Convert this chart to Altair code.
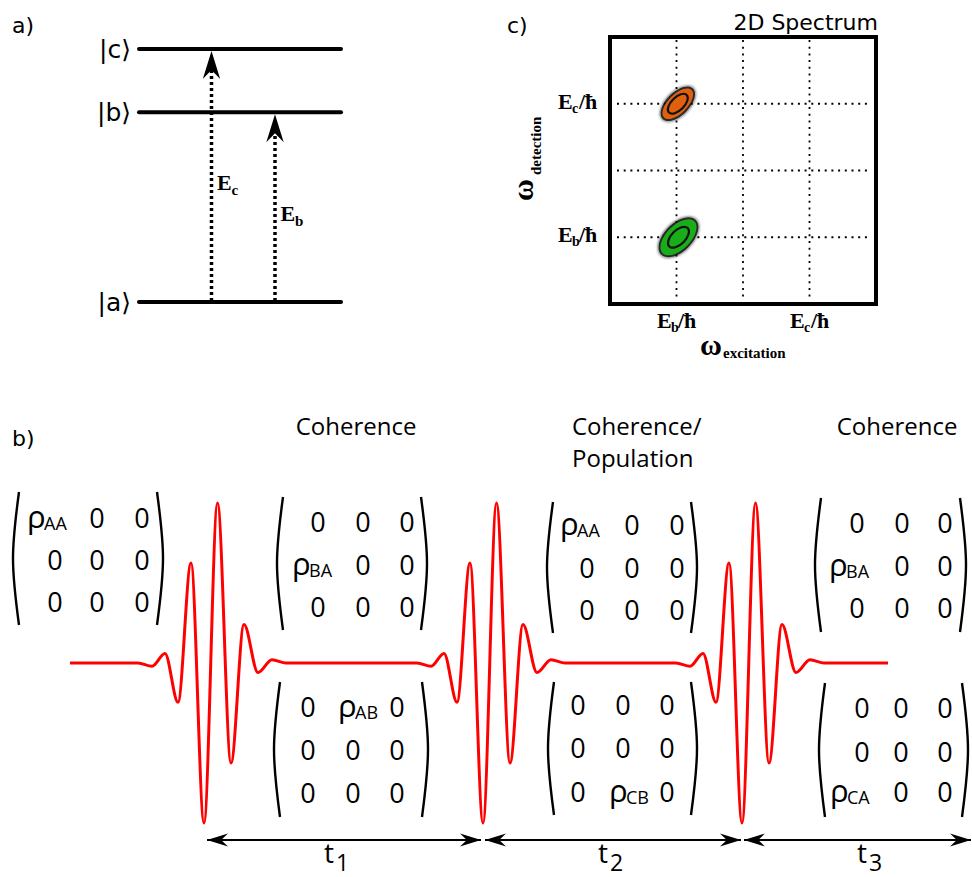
import altair as alt
import pandas as pd

# ---------------- data ----------------
# a) three-level system
level_names = ["a", "b", "c"]
level_energy = [0.0, 0.75, 1.0]            # relative energies of |a>, |b>, |c>
transition_upper = ["c", "b"]              # both excitations start from |a>

# c) 2D spectrum (grid units; the frame spans 0..4 on both axes)
spec_grid = [1, 2, 3]
spec_tick_pos = [1, 3]
spec_tick_sub = ["b", "c"]
peak_exc = [1.02, 1.03]
peak_det = [3.0, 1.0]
peak_color = ["#e0600e", "#1aad1a"]
peak_axes = [(19.5, 9.5, 12.5, 6.5), (22.5, 12.0, 13.0, 7.0)]   # fill a,b ; inner ring a,b

# b) pulse sequence
pulse_trough_time = [0, 279, 538]
wave_offset = [-66, -52, -39, -26, -13, 0, 13.5, 27, 40, 54, 68, 82]
wave_amp = [0.0, -0.02, 0.06, -0.245, 0.625, -1.0, 1.0, -0.625, 0.24, -0.06, 0.02, 0.0]
delay_subs = ["1", "2", "3"]
section_titles = ["Coherence", "Coherence/|Population", "Coherence"]
matrix_entries = [
    [["ρ_AA", "0", "0"], ["0", "0", "0"], ["0", "0", "0"]],
    [["0", "0", "0"], ["ρ_BA", "0", "0"], ["0", "0", "0"]],
    [["ρ_AA", "0", "0"], ["0", "0", "0"], ["0", "0", "0"]],
    [["0", "0", "0"], ["ρ_BA", "0", "0"], ["0", "0", "0"]],
    [["0", "ρ_AB", "0"], ["0", "0", "0"], ["0", "0", "0"]],
    [["0", "0", "0"], ["0", "0", "0"], ["0", "ρ_CB", "0"]],
    [["0", "0", "0"], ["0", "0", "0"], ["ρ_CA", "0", "0"]],
]

# ---------------- layout ----------------
W, H = 972, 877
XS = alt.Scale(domain=[0, W], range=[0, W], nice=False, zero=False)
YS = alt.Scale(domain=[0, H], range=[0, H], nice=False, zero=False)


def X(f="x"):
    return alt.X(f"{f}:Q", scale=XS, axis=None)


def Y(f="y"):
    return alt.Y(f"{f}:Q", scale=YS, axis=None)


LEV_X0, LEV_X1, LEV_Y0, LEV_SPAN = 139, 341, 302, 253
TRANS_X = [211.5, 275]
BX0, BX1, BY0, BY1 = 610, 876, 37, 304
PULSE_X0, BASE_Y, AMP = 204, 663, 160
LINE_X0, LINE_X1 = 70, 888
ARROW_Y = 840
ARROW_SPANS = [(207, 481), (485, 741), (744, 971)]
T_LABEL_X = [324, 598, 857]
MAT_LAYOUT = [
    # left, right, top, bottom, column centres, row baselines, rho left
    (13, 163, 492, 625, [55, 97, 142], [528, 570, 612], 27),
    (277, 427, 497, 630, [318, 363, 407], [532, 575, 617], 292),
    (547, 697, 502, 633, [587, 632, 677], [535, 578, 620], 560),
    (815, 966, 498, 632, [857, 902, 945], [533, 576, 618], 829),
    (274, 428, 682, 817, [308, 353, 397], [717, 760, 803], 338),
    (548, 697, 682, 815, [578, 623, 667], [715, 758, 802], 609),
    (819, 968, 683, 817, [862, 901, 945], [718, 762, 802], 830),
]
TITLE_POS = [(356, 435, "center"), (572, 435, "left"), (897, 435, "center")]


def lev_y(name):
    return LEV_Y0 - LEV_SPAN * level_energy[level_names.index(name)]


def sx(w):
    return BX0 + w * (BX1 - BX0) / 4


def sy(w):
    return BY1 - w * (BY1 - BY0) / 4


layers = []


def rules(rows, **mk):
    df = pd.DataFrame(rows, columns=["x", "x2", "y", "y2"])
    return alt.Chart(df).mark_rule(**mk).encode(x=X(), x2="x2:Q", y=Y(), y2="y2:Q")


def text_layer(rows, font, weight="normal", align="left", baseline="alphabetic"):
    # rows: (x, y, text, fontsize, angle)
    df = pd.DataFrame(rows, columns=["x", "y", "txt", "fs", "ang"])
    return alt.Chart(df).mark_text(font=font, fontWeight=weight, align=align,
                                   baseline=baseline, color="black").encode(
        x=X(), y=Y(), text="txt:N",
        size=alt.Size("fs:Q", scale=None),
        angle=alt.Angle("ang:Q", scale=None))


ARROW = "M0,0 L-2,-0.62 L-1.35,0 L-2,0.62 Z"


def heads(rows, L):
    df = pd.DataFrame(rows, columns=["x", "y", "ang"])
    return alt.Chart(df).mark_point(shape=ARROW, filled=True, color="black", opacity=1,
                                    size=L * L, strokeWidth=0).encode(
        x=X(), y=Y(), angle=alt.Angle("ang:Q", scale=None))


def ellipse_path(r):
    k = 0.5523
    return (f"M1,0 C1,{k*r:.4f} {k:.4f},{r:.4f} 0,{r:.4f} "
            f"C{-k:.4f},{r:.4f} -1,{k*r:.4f} -1,0 "
            f"C-1,{-k*r:.4f} {-k:.4f},{-r:.4f} 0,{-r:.4f} "
            f"C{k:.4f},{-r:.4f} 1,{-k*r:.4f} 1,0 Z")


def ellipse(cx, cy, a, b, color, opacity=1.0, ring=0.0):
    df = pd.DataFrame({"x": [cx], "y": [cy]})
    kw = dict(shape=ellipse_path(b / a), size=(2 * a) ** 2, angle=315, opacity=opacity)
    if ring:
        m = alt.Chart(df).mark_point(filled=False, color=color, strokeWidth=ring, **kw)
    else:
        m = alt.Chart(df).mark_point(filled=True, color=color, strokeWidth=0, **kw)
    return m.encode(x=X(), y=Y())


# ---------- a) energy levels ----------
layers.append(rules([(LEV_X0, LEV_X1, lev_y(n), lev_y(n)) for n in level_names],
                    color="black", strokeWidth=4, strokeCap="round"))
head_a = []
dots_a = []
lab_a = []
for tx, up in zip(TRANS_X, transition_upper):
    tip = lev_y(up) + 2
    dots_a.append((tx, tx, LEV_Y0 - 1, tip + 18))
    head_a.append((tx, tip, 270))
    mid = (LEV_Y0 + lev_y(up)) / 2
    lab_a.append((tx + 5.5, mid + 14, "E", 22, 0))
    lab_a.append((tx + 20, mid + 19, up, 15, 0))
layers.append(rules(dots_a, color="black", strokeWidth=3.5, strokeDash=[3, 3]))
layers.append(heads(head_a, 28))
layers.append(text_layer(lab_a, "Liberation Serif", "bold"))
layers.append(text_layer([(131, lev_y(n) + 9, "|" + n + "⟩", 25, 0) for n in level_names],
                         "DejaVu Sans", align="right"))

# ---------- c) 2D spectrum ----------
grid_rows = []
for g in spec_grid:
    grid_rows.append((sx(g), sx(g), BY0 + 3, BY1 - 3))
    grid_rows.append((BX0 + 7, BX1 - 5, sy(g), sy(g)))
layers.append(rules(grid_rows, color="black", strokeWidth=1.8, strokeDash=[2, 4.7]))

for ex, de, col, (fa, fb, ia, ib) in zip(peak_exc, peak_det, peak_color, peak_axes):
    cx, cy = sx(ex), sy(de)
    layers.append(ellipse(cx, cy, fa + 5, fb + 5, "black", 0.08))
    layers.append(ellipse(cx, cy, fa + 3.5, fb + 3.5, "black", 0.22))
    layers.append(ellipse(cx, cy, fa + 2, fb + 2, "#111111", 0.85))
    layers.append(ellipse(cx, cy, fa, fb, col, 1.0))
    layers.append(ellipse(cx, cy, ia, ib, "#111111", 1.0, ring=2.2))

layers.append(alt.Chart(pd.DataFrame({"x": [BX0], "x2": [BX1], "y": [BY0], "y2": [BY1]}))
              .mark_rect(filled=False, color="black", strokeWidth=4)
              .encode(x=X(), x2="x2:Q", y=Y(), y2="y2:Q"))

tick_rows = []
for p, s in zip(spec_tick_pos, spec_tick_sub):
    y = sy(p)
    tick_rows += [(558, y + 5, "E", 22, 0), (572, y + 9, s, 14, 0), (579, y + 5, "/ħ", 22, 0)]
    x = sx(p)
    tick_rows += [(x - 19.5, 328, "E", 22, 0), (x - 5.5, 332, s, 14, 0), (x + 1.5, 328, "/ħ", 22, 0)]
tick_rows += [(700, 355, "ω", 30, 0), (723, 358, "excitation", 15, 0),
              (533, 201, "ω", 30, 270), (541, 175, "detection", 15, 270)]
layers.append(text_layer(tick_rows, "Liberation Serif", "bold"))

# ---------- b) pulse train ----------
pts = [(LINE_X0, BASE_Y)]
for pt in pulse_trough_time:
    for off, amp in zip(wave_offset, wave_amp):
        pts.append((PULSE_X0 + pt + off, BASE_Y - AMP * amp))
pts.append((LINE_X1, BASE_Y))
pulse_df = pd.DataFrame(pts, columns=["x", "y"])
pulse_df["i"] = range(len(pulse_df))
pulse_df["g"] = "pulse"
layers.append(alt.Chart(pulse_df).mark_line(color="#ff0000", strokeWidth=3, interpolate="monotone")
              .encode(x=X(), y=Y(), order="i:Q", detail="g:N"))

# delay arrows
layers.append(rules([(a, b, ARROW_Y, ARROW_Y) for a, b in ARROW_SPANS], color="black", strokeWidth=1.8))
hb = []
for a, b in ARROW_SPANS:
    hb += [(a, ARROW_Y, 180), (b, ARROW_Y, 0)]
layers.append(heads(hb, 21))

# density matrices
brk = []
zeros, rhos, subs = [], [], []
for m, (ent, lay) in enumerate(zip(matrix_entries, MAT_LAYOUT)):
    l, r, top, bot, cols, rows_, rl = lay
    mid = (top + bot) / 2
    for k, (xx, yy) in enumerate([(l + 6, top), (l, mid), (l + 6, bot)]):
        brk.append((xx, yy, f"L{m}", k))
    for k, (xx, yy) in enumerate([(r - 6, top), (r, mid), (r - 6, bot)]):
        brk.append((xx, yy, f"R{m}", k))
    for ri in range(3):
        for ci in range(3):
            e = ent[ri][ci]
            if e == "0":
                zeros.append((cols[ci], rows_[ri], "0", 27, 0))
            else:
                sym, sub = e.split("_")
                rhos.append((rl, rows_[ri], sym, 31, 0))
                subs.append((rl + 17, rows_[ri] + 2, sub, 18, 0))
brk_df = pd.DataFrame(brk, columns=["x", "y", "g", "i"])
layers.append(alt.Chart(brk_df).mark_line(color="black", strokeWidth=2.4, interpolate="natural")
              .encode(x=X(), y=Y(), detail="g:N", order="i:Q"))
layers.append(text_layer(zeros, "Open Sans", align="center"))
layers.append(text_layer(rhos + subs, "Open Sans"))

# titles
center_t, left_t = [], []
for title, (x, y, al) in zip(section_titles, TITLE_POS):
    for j, part in enumerate(title.split("|")):
        row = (x, y + 32 * j, part, 24, 0)
        (center_t if al == "center" else left_t).append(row)
layers.append(text_layer(center_t, "Open Sans", align="center"))
layers.append(text_layer(left_t, "Open Sans"))

t_rows = []
for x, s in zip(T_LABEL_X, delay_subs):
    t_rows += [(x, 863, "t", 28, 0), (x + 12, 871, s, 23, 0)]
layers.append(text_layer(t_rows, "Open Sans"))

# panel letters and spectrum title
layers.append(text_layer([(12, 33, "a)", 22, 0), (507, 33, "c)", 22, 0), (12, 446, "b)", 22, 0)],
                         "DejaVu Sans"))
layers.append(text_layer([(878, 30, "2D Spectrum", 22, 0)], "DejaVu Sans", align="right"))

chart = alt.layer(*layers).properties(
    width=W, height=H, padding=0, autosize="none", background="white"
).configure_view(stroke=None)

chart.save("out.html", embed_options={"renderer": "svg", "actions": False})
